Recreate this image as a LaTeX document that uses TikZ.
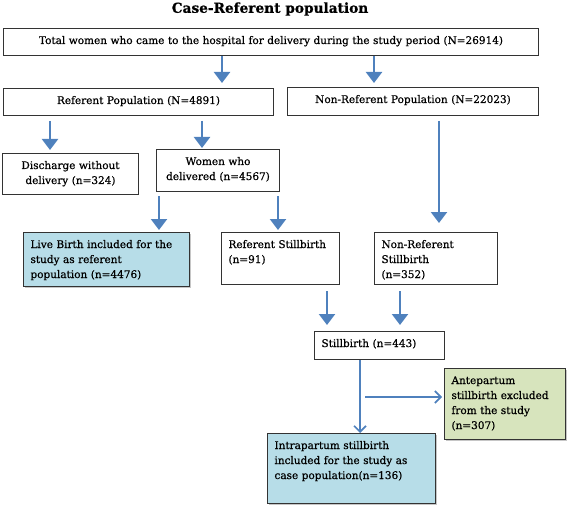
\documentclass[tikz,border=0pt]{standalone}
\usepackage{fontspec}
\setmainfont{DejaVu Serif}[FakeBold=0.7]
\usepackage{xcolor}
\usepackage{tikz}
\definecolor{flowblue}{RGB}{79,129,189}
\definecolor{caseblue}{RGB}{183,221,232}
\definecolor{excludegreen}{RGB}{215,228,189}
\usetikzlibrary{arrows.meta,shadows}

\begin{document}
\begin{tikzpicture}[x=1pt, y=-1pt, every node/.style={font=\fontsize{10.5}{15}\selectfont},
    popbox/.style={rectangle, draw=black!80, line width=1pt, anchor=north west, inner xsep=7pt, inner ysep=7.5pt, text height=8pt, align=center},
    notebox/.style={popbox, align=left},
    shaded/.style={drop shadow={shadow xshift=1.2pt, shadow yshift=-1.2pt, opacity=0.45}},
    flowarrow/.style={draw=flowblue, line width=2.4pt, -{Triangle[width=16pt,length=11pt]}},
    thinarrow/.style={draw=flowblue, line width=1.6pt, -{Straight Barb[width=12pt,length=6pt]}}]
    \useasboundingbox (0,0) rectangle (567,505);

    % Title
    \node[font=\fontsize{13.7}{15}\selectfont\bfseries] (title) at (270,9) {Case-Referent population};

    % Population boxes
    \node[popbox, text width=521pt, text depth=4pt] (total) at (3,28) {Total women who came to the hospital for delivery during the study period (N=26914)};
    \node[popbox, text width=256pt, text depth=4pt] (refpop) at (3,88) {Referent Population (N=4891)};
    \node[popbox, text width=237pt, text depth=5pt] (nonref) at (287,87) {Non-Referent Population (N=22023)};
    \node[popbox, text width=122pt, text depth=18pt] (discharge) at (2,153) {Discharge without\\delivery (n=324)};
    \node[popbox, text width=109pt, text depth=19pt] (delivered) at (156,149) {Women who\\delivered (n=4567)};

    % Stillbirth boxes
    \node[notebox, fill=caseblue, shaded, text width=152pt, text depth=31pt] (livebirth) at (23,232) {Live Birth included for the\\study as referent\\population (n=4476)};
    \node[notebox, text width=104pt, text depth=29pt] (refsb) at (221,232) {Referent Stillbirth\\(n=91)};
    \node[notebox, text width=109pt, text depth=29pt] (nonrefsb) at (374,232) {Non-Referent\\Stillbirth\\(n=352)};
    \node[notebox, text width=116pt, text depth=5pt] (stillbirth) at (314,331) {Stillbirth (n=443)};
    \node[notebox, fill=excludegreen, shaded, text width=107pt, text depth=48pt] (antepartum) at (444,368) {Antepartum\\stillbirth excluded\\from the study\\(n=307)};
    \node[notebox, fill=caseblue, shaded, text width=154pt, text depth=47pt] (intrapartum) at (267,433) {Intrapartum stillbirth\\included for the study as\\case population(n=136)};

    % Arrows
    \draw[flowarrow, shorten >=5pt] (total.south -| 222,0) -- (refpop.north -| 222,0);
    \draw[flowarrow, shorten >=4pt] (total.south -| 374,0) -- (nonref.north -| 374,0);
    \draw[flowarrow, shorten <=5pt, shorten >=3pt] (refpop.south -| 50,0) -- (discharge.north -| 50,0);
    \draw[flowarrow, shorten <=5pt, shorten >=1pt] (refpop.south -| 202,0) -- (delivered.north -| 202,0);
    \draw[flowarrow, shorten <=5pt, shorten >=9pt] (nonref.south -| 439,0) -- (nonrefsb.north -| 439,0);
    \draw[flowarrow, shorten <=4pt, shorten >=2pt] (delivered.south -| 159,0) -- (livebirth.north -| 159,0);
    \draw[flowarrow, shorten <=4pt, shorten >=2pt] (delivered.south -| 278,0) -- (refsb.north -| 278,0);
    \draw[flowarrow, shorten <=6pt, shorten >=6pt] (refsb.south -| 327,0) -- (stillbirth.north -| 327,0);
    \draw[flowarrow, shorten <=6pt, shorten >=6pt] (nonrefsb.south -| 400,0) -- (stillbirth.north -| 400,0);
    \draw[thinarrow] (stillbirth.south -| 360,0) -- (intrapartum.north -| 360,0);
    \coordinate (branch) at (365,397);
    \draw[thinarrow, shorten >=2pt] (branch) -- (antepartum.west |- branch);
\end{tikzpicture}
\end{document}
